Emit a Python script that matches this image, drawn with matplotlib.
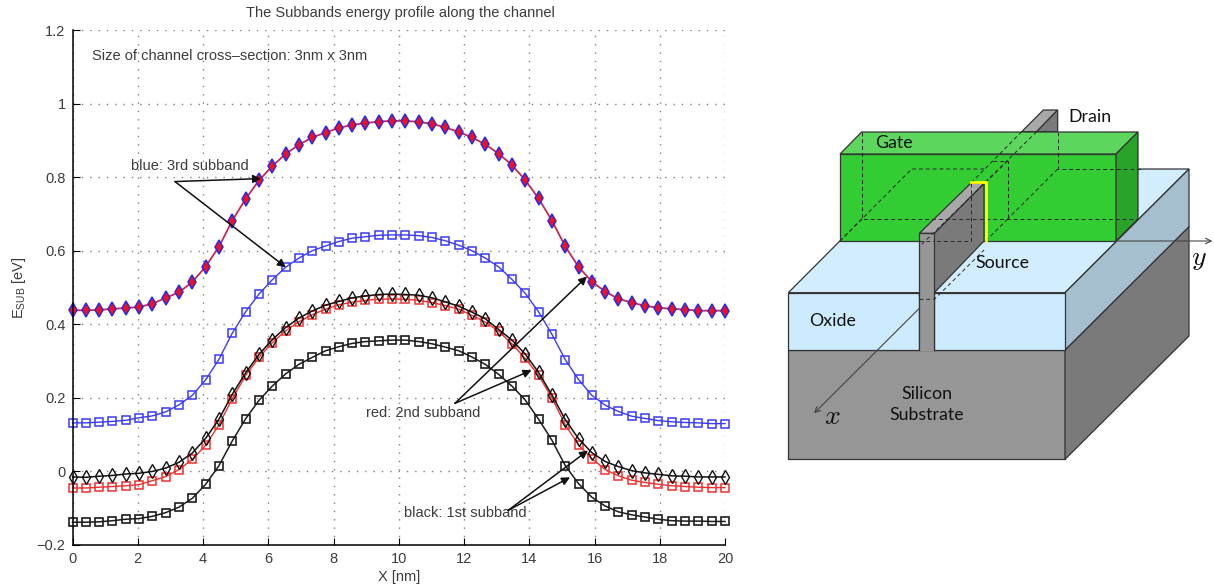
import numpy as np
import matplotlib
matplotlib.use('Agg')
import matplotlib.pyplot as plt
from matplotlib.patches import Polygon

plt.rcParams['font.family'] = ['Liberation Sans', 'DejaVu Sans']
plt.rcParams['mathtext.default'] = 'regular'

# 50 sample points along the channel
x_nm = np.linspace(0, 20, 50)

band3_blue = [0.438, 0.438, 0.439, 0.442, 0.444, 0.447, 0.456, 0.472, 0.487, 0.515,
              0.557, 0.611, 0.682, 0.741, 0.791, 0.830, 0.863, 0.888, 0.908, 0.921,
              0.934, 0.942, 0.947, 0.951, 0.953,
              0.953, 0.950, 0.945, 0.935, 0.923, 0.908, 0.889, 0.864, 0.833, 0.792,
              0.742, 0.682, 0.612, 0.556, 0.516, 0.489, 0.469, 0.459, 0.450, 0.445,
              0.442, 0.440, 0.437, 0.437, 0.437]
band3_sq = [0.132, 0.132, 0.134, 0.136, 0.139, 0.146, 0.151, 0.162, 0.181, 0.207,
            0.249, 0.305, 0.376, 0.434, 0.482, 0.521, 0.555, 0.580, 0.600, 0.613,
            0.625, 0.634, 0.638, 0.642, 0.643,
            0.643, 0.641, 0.636, 0.627, 0.615, 0.600, 0.580, 0.556, 0.522, 0.484,
            0.434, 0.373, 0.304, 0.250, 0.207, 0.180, 0.163, 0.150, 0.144, 0.138,
            0.135, 0.133, 0.132, 0.130, 0.130]
band2_diamond = [-0.015, -0.016, -0.013, -0.011, -0.007, -0.005, 0.000, 0.009, 0.025, 0.050,
                 0.090, 0.142, 0.210, 0.268, 0.318, 0.358, 0.391, 0.417, 0.436, 0.452,
                 0.462, 0.472, 0.477, 0.481, 0.482,
                 0.481, 0.479, 0.472, 0.461, 0.449, 0.433, 0.415, 0.386, 0.357, 0.319,
                 0.269, 0.208, 0.141, 0.089, 0.051, 0.027, 0.013, 0.002, -0.004, -0.008,
                 -0.012, -0.013, -0.015, -0.015, -0.015]
band2_sq = [-0.045, -0.045, -0.043, -0.041, -0.039, -0.036, -0.025, -0.014, 0.005, 0.033,
            0.071, 0.127, 0.198, 0.261, 0.310, 0.350, 0.382, 0.407, 0.426, 0.441,
            0.453, 0.460, 0.465, 0.468, 0.469,
            0.468, 0.465, 0.459, 0.451, 0.441, 0.424, 0.406, 0.381, 0.347, 0.307,
            0.261, 0.200, 0.127, 0.072, 0.035, 0.005, -0.012, -0.024, -0.030, -0.035,
            -0.039, -0.041, -0.043, -0.044, -0.044]
band1_sq = [-0.138, -0.138, -0.137, -0.134, -0.130, -0.128, -0.122, -0.112, -0.097, -0.073,
            -0.035, 0.016, 0.083, 0.143, 0.193, 0.232, 0.265, 0.291, 0.310, 0.328,
            0.339, 0.348, 0.353, 0.355, 0.357,
            0.357, 0.353, 0.347, 0.338, 0.328, 0.311, 0.291, 0.264, 0.232, 0.194,
            0.142, 0.085, 0.016, -0.033, -0.070, -0.094, -0.110, -0.118, -0.124, -0.130,
            -0.134, -0.135, -0.135, -0.136, -0.136]

xtick_vals = [0, 2, 4, 6, 8, 10, 12, 14, 16, 18, 20]
ytick_vals = [-0.2, 0, 0.2, 0.4, 0.6, 0.8, 1, 1.2]
ytick_labels = ['\u22120.2', '0', '0.2', '0.4', '0.6', '0.8', '1', '1.2']

W, H = 1214, 587
TXT = '#3c3c3c'
FS = 10.5
fig = plt.figure(figsize=(W / 100, H / 100), dpi=100)

ax = fig.add_axes([72.5 / W, 1 - 545 / H, (725 - 72.5) / W, (545 - 30) / H])
ax.plot(x_nm, band3_sq, '-s', color='#3a3af5', lw=1, ms=5.5, mfc='none', mew=1.1, clip_on=False)
ax.plot(x_nm, band2_sq, '-s', color='#f03030', lw=1, ms=5.5, mfc='none', mew=1.1, clip_on=False)
ax.plot(x_nm, band2_diamond, '-d', color='#111111', lw=1.1, ms=7, mfc='none', mew=1.0, clip_on=False)
ax.plot(x_nm, band1_sq, '-s', color='#1c1c1c', lw=1.1, ms=5.5, mfc='none', mew=1.2, clip_on=False)
ax.plot(x_nm, band3_blue, '-d', color='#c02a55', lw=1.3, ms=7, mfc='#f01020', mec='#2a2ae8',
        mew=1.1, clip_on=False)

ax.set_xlim(0, 20)
ax.set_ylim(-0.2, 1.2)
ax.set_xticks(xtick_vals)
ax.set_yticks(ytick_vals)
ax.set_yticklabels(ytick_labels)
ax.tick_params(direction='in', length=5, width=0.8, labelsize=FS, labelcolor=TXT, pad=5)
ax.grid(True, color='#808080', lw=1, linestyle=(0, (1, 5)))
ax.set_axisbelow(True)
ax.spines['top'].set_visible(False)
ax.spines['right'].set_visible(False)
ax.spines['left'].set_linewidth(1.1)
ax.spines['bottom'].set_linewidth(1.1)

ax.set_title('The Subbands energy profile along the channel', fontsize=FS, color=TXT, x=0.503, y=1.0, pad=9)
ax.set_xlabel('X [nm]', fontsize=FS, color=TXT, labelpad=3)
ax.set_ylabel(r'E$_{SUB}$ [eV]', fontsize=FS, color=TXT, labelpad=6)

ax.text(0.6, 1.128, 'Size of channel cross\u2013section: 3nm x 3nm', fontsize=FS, color=TXT, va='center')
ax.text(1.8, 0.829, 'blue: 3rd subband', fontsize=FS, color=TXT, va='center')
ax.text(9.0, 0.160, 'red: 2nd subband', fontsize=FS, color=TXT, va='center')
ax.text(10.15, -0.112, 'black: 1st subband', fontsize=FS, color=TXT, va='center')

arrows = [((3.14, 0.788), (5.78, 0.796)), ((3.14, 0.788), (6.54, 0.555)),
          ((11.72, 0.185), (15.77, 0.53)), ((11.72, 0.185), (14.07, 0.275)),
          ((13.35, -0.106), (15.8, 0.057)), ((13.35, -0.106), (15.25, -0.016))]
for tail, head in arrows:
    ax.annotate('', xy=head, xytext=tail,
                arrowprops=dict(arrowstyle='-|>', color='#111111', lw=1.1, mutation_scale=12,
                                shrinkA=0, shrinkB=0))

# device sketch, coordinates are in its own drawing units
sk = fig.add_axes([780 / W, 1 - 470 / H, 434 / W, 370 / H])
sk.set_xlim(0, 1302)
sk.set_ylim(1110, 0)
sk.axis('off')

EDGE = '#333333'
faces = [
    ([(25, 750), (855, 750), (855, 1078), (25, 1078)], '#969696'),
    ([(855, 750), (1227, 380), (1227, 708), (855, 1078)], '#7a7a7a'),
    ([(25, 578), (395, 207), (1227, 207), (855, 578)], '#d2edff'),
    ([(855, 578), (1227, 207), (1227, 380), (855, 750)], '#a6bfcf'),
    ([(25, 578), (418, 578), (418, 750), (25, 750)], '#cdebff'),
    ([(463, 578), (855, 578), (855, 750), (463, 750)], '#cdebff'),
    ([(725, 95), (790, 30), (833, 30), (770, 95)], '#a8a8a8'),
    ([(770, 95), (833, 30), (833, 95)], '#7a7a7a'),
    ([(180, 162), (1008, 162), (1008, 423), (180, 423)], '#33cc33'),
    ([(180, 162), (245, 96), (1074, 96), (1008, 162)], '#5cd65c'),
    ([(1008, 162), (1074, 96), (1074, 357), (1008, 423)], '#29a329'),
    ([(463, 400), (612, 250), (612, 423), (463, 578)], '#7a7a7a'),
    ([(418, 400), (463, 400), (612, 250), (572, 250)], '#a8a8a8'),
]
for pts, col in faces:
    sk.add_patch(Polygon(pts, closed=True, facecolor=col, edgecolor=EDGE, lw=0.9))

# front of the fin runs into the substrate, so no edge at its foot
sk.add_patch(Polygon([(418, 400), (463, 400), (463, 753), (418, 753)], closed=True,
                     facecolor='#969696', edgecolor='none'))
sk.plot([418, 418, 463, 463], [750, 400, 400, 750], color=EDGE, lw=0.9)

dashed = [
    [(245, 96), (245, 357), (1074, 357)],
    [(245, 357), (180, 423)],
    [(180, 423), (395, 207), (620, 207)],
    [(833, 96), (833, 207), (1090, 207)],
    [(640, 183), (683, 183), (683, 357)],
    [(683, 357), (617, 423)],
    [(833, 207), (683, 357)],
    [(725, 95), (572, 250)],
    [(770, 95), (612, 250)],
    [(572, 250), (572, 423), (463, 423)],
    [(418, 423), (463, 423)],
    [(418, 578), (418, 598), (463, 598), (612, 450)],
    [(683, 183), (418, 440)],
]
for line in dashed:
    xs, ys = zip(*line)
    sk.plot(xs, ys, color='#2a2a2a', lw=0.7, linestyle=(0, (4, 3)))

# yellow channel edge
sk.plot([572, 617, 617], [246, 246, 423], color='#ffff00', lw=2, solid_joinstyle='miter')

sk.annotate('', xy=(102, 940), xytext=(418, 625),
            arrowprops=dict(arrowstyle='->', color='#444444', lw=0.8, shrinkA=0, shrinkB=0))
sk.annotate('', xy=(1297, 423), xytext=(1008, 423),
            arrowprops=dict(arrowstyle='->', color='#444444', lw=0.8, shrinkA=0, shrinkB=0))

labels = [('Drain', 930, 52), ('Gate', 343, 128), ('Source', 667, 490), ('Oxide', 157, 664),
          ('Silicon', 440, 882), ('Substrate', 440, 945)]
for s, lx, ly in labels:
    sk.text(lx, ly, s, fontsize=12.8, family=['Lato', 'DejaVu Sans'], color='#111111', ha='center', va='center')
sk.text(157, 950, r'$\mathit{x}$', fontsize=20, math_fontfamily='cm', color='#111111', ha='center', va='center')
sk.text(1258, 478, r'$\mathit{y}$', fontsize=20, math_fontfamily='cm', color='#111111', ha='center', va='center')

fig.savefig('out.png', dpi=100)
